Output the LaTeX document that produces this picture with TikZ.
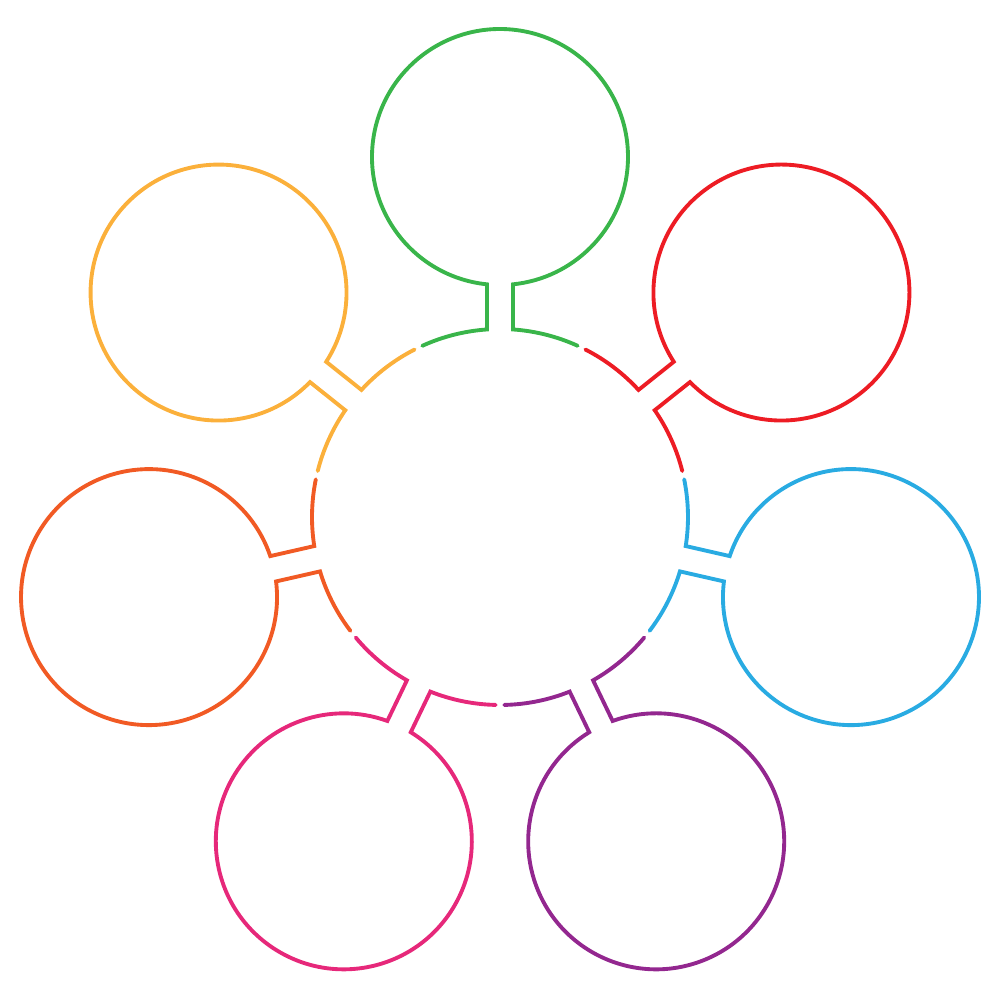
\documentclass[tikz,border=0pt]{standalone}
\usetikzlibrary{calc}
\definecolor{cgreen}{HTML}{39B54A}
\definecolor{cred}{HTML}{ED1C24}
\definecolor{cblue}{HTML}{29ABE2}
\definecolor{cpurple}{HTML}{93278F}
\definecolor{cpink}{HTML}{E6287A}
\definecolor{corange}{HTML}{F15A24}
\definecolor{cyellow}{HTML}{FBB03B}
\tikzstyle{ring}=[line width=2.2pt, line join=miter, line cap=round]
% sizes: hub radius, bubble radius, distance, half width of the neck, gap at sector ends
\def\rin{3.76}
\def\rout{2.56}
\def\dist{7.2}
\def\nh{0.26}
\def\gp{1.3}
\newcommand\petal[3]{
    \coordinate (#1) at (#2:\dist);
    \begin{scope}[rotate=#2]
    \draw[ring, draw=#3] (25.714-\gp:\rin)
        arc[start angle=25.714-\gp, end angle={asin(\nh/\rin)}, radius=\rin]
        -- ({\dist-sqrt(\rout*\rout-\nh*\nh)}, \nh)
        arc[start angle={180-asin(\nh/\rout)}, end angle={-180+asin(\nh/\rout)}, radius=\rout]
        -- ({sqrt(\rin*\rin-\nh*\nh)}, -\nh)
        arc[start angle={-asin(\nh/\rin)}, end angle=-25.714+\gp, radius=\rin];
    \end{scope}
}
\begin{document}
\begin{tikzpicture}
    \useasboundingbox (-10,-9.66) rectangle (10,10.34);
    \coordinate (hub) at (0,0);

    \petal{top}{90}{cgreen}
    \petal{topright}{38.571}{cred}
    \petal{right}{-12.857}{cblue}
    \petal{lowright}{-64.286}{cpurple}
    \petal{lowleft}{-115.714}{cpink}
    \petal{left}{-167.143}{corange}
    \petal{topleft}{141.429}{cyellow}
\end{tikzpicture}
\end{document}
